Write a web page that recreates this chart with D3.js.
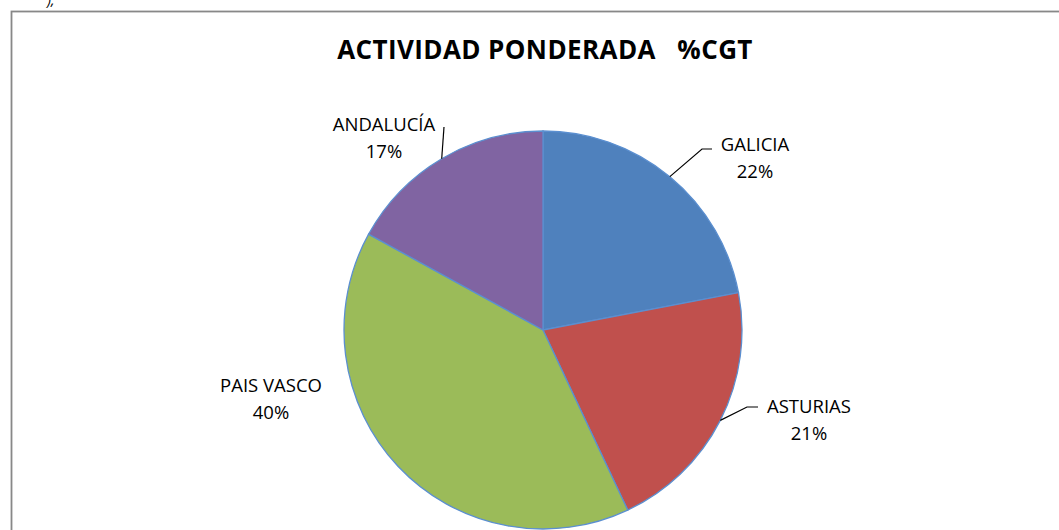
<!DOCTYPE html>
<html lang="es">
<head>
  <meta charset="UTF-8" />
  <title>ACTIVIDAD PONDERADA %CGT</title>
  <script src="https://cdn.jsdelivr.net/npm/d3@7/dist/d3.min.js"></script>
  <style>
    html, body { margin: 0; padding: 0; background: #fff; }
    svg { display: block; font-family: "Open Sans", "Liberation Sans", sans-serif; }
  </style>
</head>
<body>
  <div id="chart"></div>
  <script>
    // datos
    const regions = ["GALICIA", "ASTURIAS", "PAIS VASCO", "ANDALUCÍA"];
    const shares = [22, 21, 40, 17];
    const colors = ["#4F81BD", "#C0504D", "#9BBB59", "#8064A2"];

    const width = 1059, height = 530;
    const cx = 543, cy = 330, r = 199;

    // posición de etiquetas (centro del texto) y codo de la línea guía
    const labelLayout = [
      { x: 755, y: 151, elbow: [702, 149], end: [712, 149] },
      { x: 809, y: 413, elbow: [747, 407], end: [758, 407] },
      { x: 271, y: 392, elbow: null, end: null },
      { x: 384, y: 131, elbow: null, end: [444, 127] }
    ];

    const svg = d3.select("#chart").append("svg")
      .attr("width", width)
      .attr("height", height);

    // marco del gráfico
    svg.append("rect")
      .attr("x", 11.5).attr("y", 11.5)
      .attr("width", 1100).attr("height", 600)
      .attr("fill", "#fff")
      .attr("stroke", "#888")
      .attr("stroke-width", 1.8);

    svg.append("text")
      .attr("x", 47).attr("y", 5)
      .attr("font-size", 14)
      .attr("font-style", "italic")
      .attr("fill", "#000")
      .text("),");

    svg.append("text")
      .attr("x", 545).attr("y", 59)
      .attr("text-anchor", "middle")
      .attr("font-size", 26)
      .attr("font-weight", "bold")
      .attr("letter-spacing", 0.4)
      .attr("fill", "#000")
      .attr("xml:space", "preserve")
      .text("ACTIVIDAD PONDERADA   %CGT");

    const data = regions.map((name, i) => ({ name, value: shares[i], color: colors[i] }));

    const pie = d3.pie().value(d => d.value).sort(null);
    const arcs = pie(data);
    const arc = d3.arc().innerRadius(0).outerRadius(r);

    const g = svg.append("g").attr("transform", `translate(${cx},${cy})`);

    g.selectAll("path")
      .data(arcs)
      .enter()
      .append("path")
      .attr("d", arc)
      .attr("fill", d => d.data.color)
      .attr("stroke", "#5B8FD0")
      .attr("stroke-width", 1.3);

    // líneas guía
    arcs.forEach((a, i) => {
      const L = labelLayout[i];
      if (!L.end) return;
      const mid = (a.startAngle + a.endAngle) / 2;
      const p0 = [cx + r * Math.sin(mid), cy - r * Math.cos(mid)];
      const pts = L.elbow ? [p0, L.elbow, L.end] : [p0, L.end];
      svg.append("path")
        .attr("d", d3.line()(pts))
        .attr("fill", "none")
        .attr("stroke", "#000")
        .attr("stroke-width", 1.2);
    });

    // etiquetas
    arcs.forEach((a, i) => {
      const L = labelLayout[i];
      const t = svg.append("text")
        .attr("text-anchor", "middle")
        .attr("font-size", 18.5)
        .attr("fill", "#000");
      t.append("tspan").attr("x", L.x).attr("y", L.y).text(a.data.name);
      t.append("tspan").attr("x", L.x).attr("y", L.y + 27).text(a.data.value + "%");
    });
  </script>
</body>
</html>
